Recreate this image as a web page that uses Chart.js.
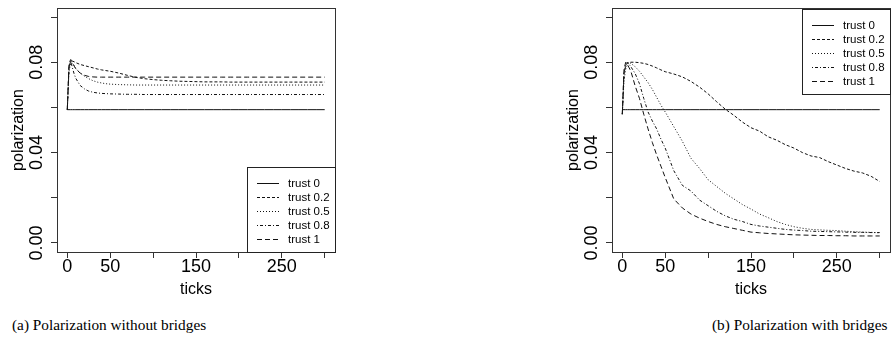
<!DOCTYPE html>
<html>
<head>
<meta charset="utf-8">
<script src="https://cdn.jsdelivr.net/npm/chart.js@4.4.0/dist/chart.umd.min.js"></script>
<style>
  body { margin: 0; background: #fff; width: 894px; height: 345px; position: relative; overflow: hidden; }
  .panel { position: absolute; top: 0; height: 305px; }
  #panelA { left: 0; width: 345px; }
  #panelB { left: 555px; width: 339px; }
  .cap { position: absolute; top: 316px; font-family: "Liberation Serif", serif; font-size: 15.3px; white-space: nowrap; color: #000; }
  #capA { left: 12px; }
  #capB { left: 712px; }
</style>
</head>
<body>
<div class="panel" id="panelA"><canvas id="chartA"></canvas></div>
<div class="panel" id="panelB"><canvas id="chartB"></canvas></div>
<div class="cap" id="capA">(a) Polarization without bridges</div>
<div class="cap" id="capB">(b) Polarization with bridges</div>
<script>
const steps = [0,2,4,6,8,10,15,20,25,30,35,40,45,50,60,70,80,90,100,110,120,130,140,150,160,170,180,190,200,210,220,230,240,250,260,270,280,290,300];

const seriesNames = ['trust 0', 'trust 0.2', 'trust 0.5', 'trust 0.8', 'trust 1'];
const xTickValues = [0, 50, 100, 150, 200, 250, 300];
const xTickLabels = ['0', '50', '', '150', '', '250', ''];
const yTickValues = [0, 0.02, 0.04, 0.06, 0.08, 0.10];
const yTickLabels = ['0.00', '', '0.04', '', '0.08', ''];

// (a) without bridges
const noBridge0  = [0.059,0.059,0.059,0.059,0.059,0.059,0.059,0.059,0.059,0.059,0.059,0.059,0.059,0.059,0.059,0.059,0.059,0.059,0.059,0.059,0.059,0.059,0.059,0.059,0.059,0.059,0.059,0.059,0.059,0.059,0.059,0.059,0.059,0.059,0.059,0.059,0.059,0.059,0.059];
const noBridge02 = [0.059,0.078,0.0805,0.0805,0.0802,0.0798,0.079,0.0785,0.078,0.0775,0.077,0.0766,0.0763,0.076,0.0752,0.0742,0.0733,0.0727,0.0723,0.072,0.0718,0.0716,0.0715,0.0714,0.0713,0.0713,0.0713,0.0712,0.0712,0.0712,0.0712,0.0712,0.0712,0.0712,0.0712,0.0712,0.0712,0.0712,0.0712];
const noBridge05 = [0.059,0.076,0.0798,0.0795,0.0785,0.0772,0.0752,0.0738,0.0727,0.0718,0.0712,0.0708,0.0705,0.0703,0.0701,0.07,0.0699,0.0699,0.0699,0.0699,0.0699,0.0699,0.0699,0.0699,0.0699,0.0699,0.0699,0.0699,0.0699,0.0699,0.0699,0.0699,0.0699,0.0699,0.0699,0.0699,0.0699,0.0699,0.0699];
const noBridge08 = [0.059,0.0775,0.0805,0.0775,0.0748,0.0728,0.0697,0.0682,0.0672,0.0667,0.0664,0.0662,0.0661,0.066,0.0659,0.0658,0.0658,0.0657,0.0657,0.0657,0.0657,0.0657,0.0657,0.0657,0.0657,0.0657,0.0657,0.0657,0.0657,0.0657,0.0657,0.0657,0.0657,0.0657,0.0657,0.0657,0.0657,0.0657,0.0657];
const noBridge1  = [0.059,0.0795,0.0812,0.0798,0.0783,0.077,0.0752,0.0742,0.0737,0.0735,0.0734,0.0734,0.0734,0.0734,0.0734,0.0734,0.0734,0.0734,0.0734,0.0734,0.0734,0.0734,0.0734,0.0734,0.0734,0.0734,0.0734,0.0734,0.0734,0.0734,0.0734,0.0734,0.0734,0.0734,0.0734,0.0734,0.0734,0.0734,0.0734];

// (b) with bridges
const bridge0  = [0.059,0.059,0.059,0.059,0.059,0.059,0.059,0.059,0.059,0.059,0.059,0.059,0.059,0.059,0.059,0.059,0.059,0.059,0.059,0.059,0.059,0.059,0.059,0.059,0.059,0.059,0.059,0.059,0.059,0.059,0.059,0.059,0.059,0.059,0.059,0.059,0.059,0.059,0.059];
const bridge02 = [0.057,0.075,0.0785,0.0795,0.080,0.080,0.080,0.0798,0.0795,0.079,0.0783,0.0775,0.0766,0.0758,0.0748,0.0735,0.0715,0.069,0.066,0.0625,0.0592,0.0565,0.0535,0.051,0.0495,0.047,0.0455,0.0435,0.042,0.040,0.0385,0.0378,0.036,0.0345,0.033,0.0318,0.031,0.0295,0.0272];
const bridge05 = [0.057,0.072,0.077,0.079,0.080,0.0795,0.078,0.076,0.0735,0.071,0.068,0.0645,0.061,0.058,0.0515,0.045,0.0375,0.033,0.028,0.025,0.022,0.0195,0.017,0.015,0.0128,0.0112,0.0095,0.0082,0.0072,0.0065,0.006,0.0058,0.0056,0.0055,0.0052,0.005,0.0048,0.0047,0.0045];
const bridge08 = [0.057,0.075,0.079,0.080,0.079,0.078,0.075,0.0705,0.064,0.058,0.054,0.0505,0.046,0.042,0.032,0.0255,0.023,0.019,0.0165,0.014,0.012,0.0105,0.0095,0.0082,0.0075,0.007,0.0065,0.006,0.0057,0.0055,0.0052,0.0051,0.005,0.0049,0.0048,0.0047,0.0047,0.0046,0.0046];
const bridge1  = [0.057,0.077,0.080,0.079,0.0775,0.076,0.0695,0.064,0.057,0.0505,0.0445,0.039,0.034,0.029,0.0195,0.0155,0.0128,0.011,0.0095,0.0082,0.0072,0.0064,0.0056,0.0048,0.0045,0.0042,0.004,0.0038,0.0036,0.0035,0.0034,0.0033,0.0033,0.0032,0.0032,0.0031,0.0031,0.0031,0.0031];

const dashes = [[], [3, 2], [1, 2], [1, 2, 3, 2], [5, 3]];
const sans = 'Liberation Sans';

function frame(legendAtTop) {
  return {
    id: 'frame',
    afterDraw(chart) {
      const ctx = chart.ctx, a = chart.chartArea;
      ctx.save();
      ctx.strokeStyle = '#333';
      ctx.lineWidth = 1;
      ctx.strokeRect(Math.round(a.left) + 0.5, Math.round(a.top) + 0.5, Math.round(a.right - a.left), Math.round(a.bottom - a.top));

      // rotated y tick labels, like R draws them
      const ys = chart.scales.y;
      ctx.fillStyle = '#000';
      ctx.font = '18px "' + sans + '"';
      ctx.textAlign = 'center';
      ctx.textBaseline = 'middle';
      yTickValues.forEach((v, i) => {
        if (!yTickLabels[i]) return;
        ctx.save();
        ctx.translate(a.left - 20, ys.getPixelForValue(v));
        ctx.rotate(-Math.PI / 2);
        ctx.fillText(yTickLabels[i], 0, 0);
        ctx.restore();
      });

      // boxed legend in a corner of the plot
      const w = 88, h = 85;
      const x0 = Math.round(a.right) - w, y0 = legendAtTop ? Math.round(a.top) + 1 : Math.round(a.bottom) - h;
      ctx.fillStyle = '#fff';
      ctx.fillRect(x0, y0, w, h);
      ctx.strokeStyle = '#222';
      ctx.strokeRect(x0 + 0.5, y0 + 0.5, w, h);
      ctx.font = '11.5px "' + sans + '"';
      ctx.textAlign = 'left';
      chart.data.datasets.forEach((ds, i) => {
        const y = y0 + 15.5 + i * 14;
        ctx.beginPath();
        ctx.setLineDash(ds.borderDash);
        ctx.strokeStyle = ds.borderColor;
        ctx.moveTo(x0 + 10, Math.round(y) + 0.5);
        ctx.lineTo(x0 + 32, Math.round(y) + 0.5);
        ctx.stroke();
        ctx.setLineDash([]);
        ctx.fillStyle = '#000';
        ctx.fillText(ds.label, x0 + 41, y + 1);
      });
      ctx.restore();
    }
  };
}

function makeChart(id, series, legendAtTop, padRight) {
  const ctx = document.getElementById(id).getContext('2d');
  return new Chart(ctx, {
    type: 'line',
    data: {
      datasets: series.map((vals, i) => ({
        label: seriesNames[i],
        data: steps.map((t, j) => ({ x: t, y: vals[j] })),
        borderColor: '#111',
        borderWidth: 1,
        borderDash: dashes[i],
        pointRadius: 0,
        tension: 0,
        fill: false
      }))
    },
    options: {
      responsive: true,
      maintainAspectRatio: false,
      animation: false,
      layout: { padding: { top: 8, right: padRight, bottom: 0, left: 0 } },
      plugins: { legend: { display: false }, tooltip: { enabled: false } },
      scales: {
        x: {
          type: 'linear', min: -12, max: 312,
          afterBuildTicks: s => { s.ticks = xTickValues.map(v => ({ value: v })); },
          afterFit: s => { s.height = 53; },
          grid: { drawOnChartArea: false, tickLength: 6, color: '#333' },
          border: { display: false },
          ticks: {
            autoSkip: false, maxRotation: 0, padding: -2, color: '#000',
            font: { family: sans, size: 18 },
            callback: (v, i) => xTickLabels[i]
          },
          title: { display: true, text: 'ticks', color: '#000', font: { family: sans, size: 16 }, padding: { top: 0, bottom: 6 } }
        },
        y: {
          min: -0.004, max: 0.104,
          afterBuildTicks: s => { s.ticks = yTickValues.map(v => ({ value: v })); },
          afterFit: s => { s.width = 57; },
          grid: { drawOnChartArea: false, tickLength: 6, color: '#333' },
          border: { display: false },
          ticks: { display: false },
          title: { display: true, text: 'polarization', color: '#000', font: { family: sans, size: 16 }, padding: { top: 9, bottom: 0 } }
        }
      }
    },
    plugins: [frame(legendAtTop)]
  });
}

makeChart('chartA', [noBridge0, noBridge02, noBridge05, noBridge08, noBridge1], false, 10);
makeChart('chartB', [bridge0, bridge02, bridge05, bridge08, bridge1], true, 4);
</script>
</body>
</html>
